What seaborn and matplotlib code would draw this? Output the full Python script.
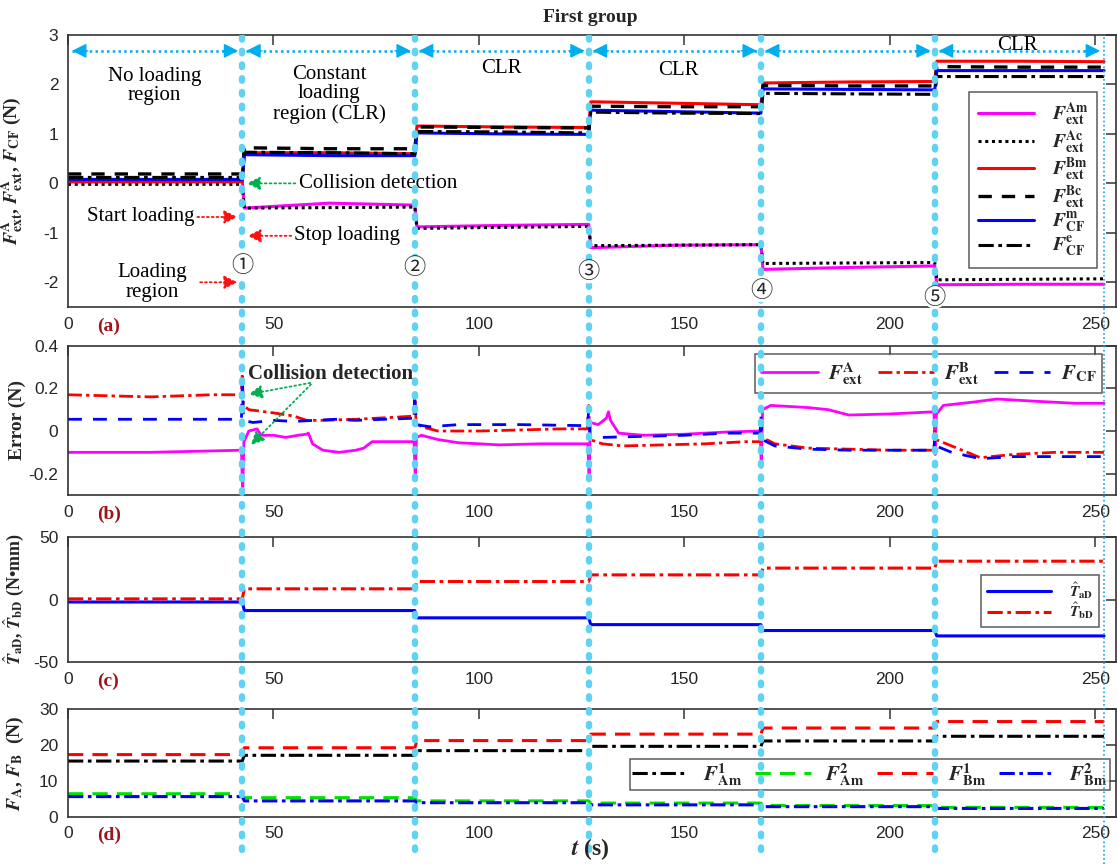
import numpy as np
import matplotlib
matplotlib.use("Agg")
import matplotlib.pyplot as plt
import seaborn as sns

# ---------------- data ----------------
bounds = [0.0, 42.4, 84.4, 126.7, 168.6, 210.9, 252.1]   # region boundaries (s)
xticks = [0, 50, 100, 150, 200, 250]

# panel (a): per region (start, middle, end) levels
a_Am = [(0.07, 0.07, 0.07), (-0.50, -0.40, -0.44), (-0.88, -0.85, -0.83),
        (-1.30, -1.25, -1.24), (-1.74, -1.70, -1.67), (-2.05, -2.04, -2.04)]
a_Ac = [(-0.02, -0.02, -0.02), (-0.50, -0.49, -0.48), (-0.91, -0.89, -0.87),
        (-1.26, -1.25, -1.24), (-1.62, -1.61, -1.60), (-1.95, -1.94, -1.93)]
a_Bm = [(0.03, 0.03, 0.03), (0.62, 0.62, 0.60), (1.16, 1.14, 1.13),
        (1.65, 1.62, 1.59), (2.03, 2.05, 2.06), (2.47, 2.47, 2.46)]
a_Bc = [(0.19, 0.19, 0.19), (0.72, 0.70, 0.70), (1.14, 1.13, 1.12),
        (1.56, 1.55, 1.55), (1.98, 1.97, 1.97), (2.36, 2.35, 2.35)]
a_CFm = [(0.08, 0.08, 0.08), (0.58, 0.56, 0.56), (1.02, 1.00, 0.99),
         (1.48, 1.45, 1.42), (1.91, 1.90, 1.89), (2.28, 2.28, 2.28)]
a_CFe = [(0.12, 0.12, 0.12), (0.63, 0.62, 0.60), (1.05, 1.04, 1.02),
         (1.44, 1.42, 1.41), (1.82, 1.81, 1.80), (2.16, 2.16, 2.16)]

# panel (b): errors, key points (t, value)
b_A_t = [0, 20, 42.2, 42.5, 42.8, 44, 46, 47, 50, 53, 56, 58, 58.5, 59.5, 62, 66, 70, 72, 74, 78,
         84.2, 84.5, 84.8, 86, 90, 95, 105, 115, 126.5, 126.8, 127.1, 129, 131, 131.5, 132, 134,
         140, 150, 160, 168.4, 168.7, 169.0, 171, 180, 185, 190, 200, 210.7, 211.0, 211.3, 213,
         220, 226, 235, 245, 252.1]
b_A_v = [-0.10, -0.10, -0.09, -0.29, -0.05, 0.0, 0.01, -0.02, -0.02, -0.03, -0.02, -0.015, -0.01,
         -0.06, -0.09, -0.10, -0.09, -0.08, -0.05, -0.05,
         -0.05, -0.22, -0.03, -0.02, -0.04, -0.055, -0.065, -0.06, -0.06, -0.23, 0.04, 0.03, 0.06,
         0.09, 0.05, -0.01, -0.02, -0.015, -0.005, 0.0, -0.17, 0.10, 0.12, 0.11, 0.10, 0.075,
         0.08, 0.09, -0.11, 0.08, 0.12, 0.135, 0.15, 0.14, 0.13, 0.13]
b_B_t = [0, 10, 20, 35, 42.2, 42.4, 42.7, 44, 50, 55, 58, 62, 70, 80, 84.2, 84.4, 84.7, 86, 90, 100,
         110, 120, 126.4, 126.7, 127.0, 130, 135, 145, 155, 165, 168.4, 168.6, 168.9, 172, 180,
         190, 200, 210.7, 210.9, 211.2, 215, 222, 230, 240, 252.1]
b_B_v = [0.17, 0.165, 0.16, 0.17, 0.17, 0.27, 0.12, 0.10, 0.085, 0.07, 0.05, 0.05, 0.055, 0.065,
         0.07, 0.17, 0.04, 0.02, 0.0, 0.0, 0.005, 0.01, 0.01, 0.12, -0.04, -0.06, -0.07, -0.065,
         -0.06, -0.05, -0.05, 0.05, -0.03, -0.06, -0.08, -0.085, -0.09, -0.09, 0.0, -0.04, -0.07,
         -0.125, -0.11, -0.10, -0.10]
b_C_t = [0, 42.2, 42.4, 42.7, 45, 50, 55, 60, 65, 70, 84.2, 84.4, 84.7, 88, 95, 110, 126.4, 126.7,
         127.0, 130, 140, 150, 160, 168.4, 168.6, 168.9, 172, 180, 190, 200, 210.7, 210.9, 211.2,
         215, 222, 230, 240, 252.1]
b_C_v = [0.055, 0.055, 0.22, 0.05, 0.04, 0.05, 0.045, 0.05, 0.055, 0.05, 0.06, 0.18, 0.03, 0.02,
         0.03, 0.03, 0.025, 0.10, -0.02, -0.03, -0.025, -0.02, -0.01, -0.01, 0.07, -0.04, -0.07,
         -0.085, -0.09, -0.09, -0.09, -0.02, -0.07, -0.10, -0.13, -0.12, -0.12, -0.12]

# panel (c): per region levels
c_TaD = [-2.0, -8.8, -14.6, -20.0, -24.7, -29.0]
c_TbD = [0.5, 8.5, 14.3, 19.6, 25.0, 30.5]

# panel (d): per region levels
d_Am1 = [15.5, 17.1, 18.4, 19.6, 21.1, 22.4]
d_Am2 = [6.4, 5.3, 4.4, 3.8, 3.1, 2.6]
d_Bm1 = [17.3, 19.2, 21.2, 23.0, 24.7, 26.5]
d_Bm2 = [5.6, 4.4, 3.9, 3.3, 2.8, 2.3]

# annotation texts
circled = ["①", "②", "③", "④", "⑤"]
circ_y = [-1.66, -1.71, -1.79, -2.17, -2.30]

# ---------------- helpers ----------------
def step3(levels):
    xs, ys = [], []
    for i, (s, m, e) in enumerate(levels):
        x0 = bounds[i] + (0.5 if i > 0 else 0.0)
        x1 = bounds[i + 1]
        xs += [x0, 0.5 * (x0 + x1), x1]
        ys += [s, m, e]
    return np.array(xs), np.array(ys)

def step1(levels):
    return step3([(v, v, v) for v in levels])

def F(sub, sup=None, sym="F"):
    s = r"\mathbfit{%s}_{\mathbf{%s}}" % (sym, sub)
    if sup:
        s += r"^{\mathbf{%s}}" % sup
    return "$" + s + "$"

# ---------------- style ----------------
sns.set_theme(style="white")
plt.rcParams["font.family"] = ["Liberation Serif", "Noto Sans CJK SC", "DejaVu Sans"]
plt.rcParams["mathtext.fontset"] = "stix"
plt.rcParams["axes.linewidth"] = 1.2
plt.rcParams["axes.edgecolor"] = "#333333"
plt.rcParams["axes.unicode_minus"] = False

W, H = 1117, 864
fig = plt.figure(figsize=(W / 100, H / 100), dpi=100)

L = 68 / W
R = 1116 / W
def box(top_px, bot_px):
    return [L, 1 - bot_px / H, R - L, (bot_px - top_px) / H]

axA = fig.add_axes(box(35, 307))
axB = fig.add_axes(box(345.7, 495))
axC = fig.add_axes(box(536.7, 662.3))
axD = fig.add_axes(box(709, 816.7))

XMAX = 255
for ax in (axA, axB, axC, axD):
    ax.set_xlim(0, XMAX)
    ax.set_xticks(xticks)
    ax.tick_params(direction="in", top=True, right=True, length=7, width=1.1,
                   labelsize=12.5, labelcolor="#262626", pad=7,
                   labelfontfamily="Liberation Sans", color="#333333")
    for sp in ax.spines.values():
        sp.set_visible(True)
        sp.set_color("#333333")

def line(ax, xy, color, ls, lw=2.0, label=None):
    x, y = xy
    sns.lineplot(x=x, y=y, ax=ax, color=color, linestyle=ls, lw=lw,
                 estimator=None, sort=False, label=label)

MAG, RED, BLU, BLK, GRN = "#FF00FF", "#FF0000", "#0000FF", "#000000", "#00E000"
dashdot = (0, (5, 1.5, 1.2, 1.5))

def leg_frame(lg):
    lg.get_frame().set_linewidth(1.1)
    lg.get_frame().set_edgecolor("#333333")

# ---- panel (a)
line(axA, step3(a_Am), MAG, "-", 2.2, F("ext", "Am"))
line(axA, step3(a_Ac), BLK, (0, (1, 1.2)), 2.2, F("ext", "Ac"))
line(axA, step3(a_Bm), RED, "-", 2.2, F("ext", "Bm"))
line(axA, step3(a_Bc), BLK, (0, (4, 3)), 2.4, F("ext", "Bc"))
line(axA, step3(a_CFm), BLU, "-", 2.2, F("CF", "m"))
line(axA, step3(a_CFe), BLK, dashdot, 2.2, F("CF", "e"))
axA.set_ylim(-2.5, 3)
axA.set_yticks([-2, -1, 0, 1, 2, 3])
leg_frame(axA.legend(loc="upper right", bbox_to_anchor=(0.982, 0.79), fontsize=14,
                     fancybox=False, handlelength=2.9, labelspacing=0.0,
                     borderpad=0.45, handletextpad=0.9, borderaxespad=0))
axA.set_ylabel(F("ext", "A") + ", " + F("ext", "A") + ", " + F("CF") + " (N)",
               fontsize=14, fontweight="bold")

# ---- panel (b)
line(axB, (np.array(b_A_t), np.array(b_A_v)), MAG, "-", 2.0, F("ext", "A"))
line(axB, (np.array(b_B_t), np.array(b_B_v)), RED, dashdot, 2.0, F("ext", "B"))
line(axB, (np.array(b_C_t), np.array(b_C_v)), BLU, (0, (5, 4)), 2.0, F("CF"))
axB.set_ylim(-0.3, 0.4)
axB.set_yticks([-0.2, 0, 0.2, 0.4])
axB.set_yticklabels(["-0.2", "0", "0.2", "0.4"])
leg_frame(axB.legend(loc="upper right", bbox_to_anchor=(0.987, 0.944), ncol=3, fontsize=15,
                     fancybox=False, handlelength=2.7, columnspacing=0.7,
                     borderpad=0.3, handletextpad=0.5, borderaxespad=0))
axB.set_ylabel("Error (N)", fontsize=14, fontweight="bold")

# ---- panel (c)
line(axC, step1(c_TaD), BLU, "-", 2.2, r"$\hat{\mathbfit{T}}_{\mathbf{aD}}$")
line(axC, step1(c_TbD), RED, dashdot, 2.2, r"$\hat{\mathbfit{T}}_{\mathbf{bD}}$")
axC.set_ylim(-50, 50)
axC.set_yticks([-50, 0, 50])
leg_frame(axC.legend(loc="upper right", bbox_to_anchor=(0.984, 0.695), fontsize=11,
                     fancybox=False, handlelength=4.2, labelspacing=0.0,
                     borderpad=0.35, handletextpad=1.2, borderaxespad=0))
axC.set_ylabel(r"$\hat{\mathbfit{T}}_{\mathbf{aD}}$, $\hat{\mathbfit{T}}_{\mathbf{bD}}$ (N•mm)",
               fontsize=13, fontweight="bold")

# ---- panel (d)
line(axD, step1(d_Am1), BLK, dashdot, 2.2, F("Am", "1"))
line(axD, step1(d_Am2), GRN, (0, (5, 3)), 2.2, F("Am", "2"))
line(axD, step1(d_Bm1), RED, (0, (5, 3)), 2.2, F("Bm", "1"))
line(axD, step1(d_Bm2), BLU, dashdot, 2.2, F("Bm", "2"))
axD.set_ylim(0, 30)
axD.set_yticks([0, 10, 20, 30])
leg_frame(axD.legend(loc="upper right", bbox_to_anchor=(0.994, 0.536), ncol=4, fontsize=15,
                     fancybox=False, handlelength=2.7, columnspacing=0.6,
                     borderpad=0.1, handletextpad=0.7, borderaxespad=0))
axD.set_ylabel(F("A") + ", " + F("B") + "  (N)", fontsize=14, fontweight="bold")

for ax in (axA, axB, axC, axD):
    ax.yaxis.set_label_coords(-0.040, 0.5)

# panel letters
for ax, lab in zip((axA, axB, axC, axD), ["(a)", "(b)", "(c)", "(d)"]):
    ax.annotate(lab, xy=(7, 0), xycoords=("data", "axes fraction"), xytext=(0, -19),
                textcoords="offset pixels", ha="left", va="center", color="#A01418",
                fontsize=14, fontweight="bold")

# ---- annotations in (a)
SKY = "#00AEEF"
for i in range(len(bounds) - 1):
    x0, x1 = bounds[i], bounds[i + 1]
    axA.plot([x0 + 1, x1 - 1], [2.68, 2.68], color=SKY, ls=(0, (1, 1.3)), lw=1.8)
    axA.annotate("", xy=(x0 + 0.3, 2.68), xytext=(x0 + 5.5, 2.68),
                 arrowprops=dict(arrowstyle="-|>", color=SKY, lw=1.0, mutation_scale=22))
    axA.annotate("", xy=(x1 - 0.3, 2.68), xytext=(x1 - 5.5, 2.68),
                 arrowprops=dict(arrowstyle="-|>", color=SKY, lw=1.0, mutation_scale=22))

tfont = dict(fontsize=15, color="black")
axA.text(21, 1.97, "No loading\nregion", ha="center", va="center", linespacing=1.05, **tfont)
axA.text(63.5, 1.80, "Constant\nloading\nregion (CLR)", ha="center", va="center", linespacing=1.05, **tfont)
axA.text(105.5, 2.33, "CLR", ha="center", va="center", **tfont)
axA.text(148.5, 2.29, "CLR", ha="center", va="center", **tfont)
axA.text(231, 2.78, "CLR", ha="center", va="center", **tfont)

GRNA = "#00B050"
axA.text(56.3, 0.0, "Collision detection", ha="left", va="center", **tfont)
axA.annotate("", xy=(42.8, 0.0), xytext=(56.0, 0.0),
             arrowprops=dict(arrowstyle="-|>", color=GRNA, lw=1.3, ls=":", mutation_scale=20))
axA.text(30.8, -0.68, "Start loading", ha="right", va="center", **tfont)
axA.annotate("", xy=(41.9, -0.68), xytext=(30.8, -0.68),
             arrowprops=dict(arrowstyle="-|>", color="#FF1010", lw=1.3, ls=":", mutation_scale=20))
axA.text(55.0, -1.06, "Stop loading", ha="left", va="center", **tfont)
axA.annotate("", xy=(43.0, -1.06), xytext=(55.0, -1.06),
             arrowprops=dict(arrowstyle="-|>", color="#FF1010", lw=1.3, ls=":", mutation_scale=20))
axA.text(20.6, -2.0, "Loading\nregion", ha="center", va="center", linespacing=1.05, **tfont)
axA.annotate("", xy=(41.9, -2.0), xytext=(31.5, -2.0),
             arrowprops=dict(arrowstyle="-|>", color="#FF1010", lw=1.3, ls=":", mutation_scale=20))

# ---- annotations in (b)
axB.text(43.9, 0.266, "Collision detection", ha="left", va="center", fontsize=15,
         fontweight="bold", zorder=6)
for ty in (0.17, -0.075):
    axB.annotate("", xy=(43.3 if ty > 0 else 44.0, ty), xytext=(59.6, 0.228),
                 arrowprops=dict(arrowstyle="-|>", color=GRNA, lw=1.3, ls=":", mutation_scale=20))

# ---- overlay with vertical region lines
top_px = 35
ov = fig.add_axes([L, 0, R - L, 1 - top_px / H])
ov.set_xlim(0, XMAX)
ov.set_ylim(0, 1)
ov.axis("off")
ov.patch.set_alpha(0)
ybot = 14 / (H - top_px)
for b in bounds[1:-1]:
    ov.axvline(b, ymin=ybot, ymax=1, color="#5FD3F3", lw=4.6, ls=(0, (0.4, 1.75)),
               dash_capstyle="round")
ov.axvline(bounds[-1], ymin=0, ymax=1, color="#1EA0E6", lw=1.2, ls=(0, (1, 1.5)))

# circled numbers on top of lines
for b, s, y in zip(bounds[1:-1], circled, circ_y):
    yfig = axA.transData.transform((b, y))
    xo, yo = ov.transData.inverted().transform(yfig)
    ov.text(b, yo, s, ha="center", va="center", fontsize=16,
            family=["Noto Sans CJK SC", "DejaVu Sans"], zorder=10,
            bbox=dict(boxstyle="circle,pad=0.0", fc="white", ec="none"))

fig.text(590 / W, 1 - 18 / H, "First group", ha="center", va="center", fontsize=14,
         fontweight="bold")
fig.text(590 / W, 1 - 849 / H, r"$\mathbfit{t}$ (s)", ha="center", va="center",
         fontsize=17, fontweight="bold")

fig.savefig("out.png", dpi=100)
